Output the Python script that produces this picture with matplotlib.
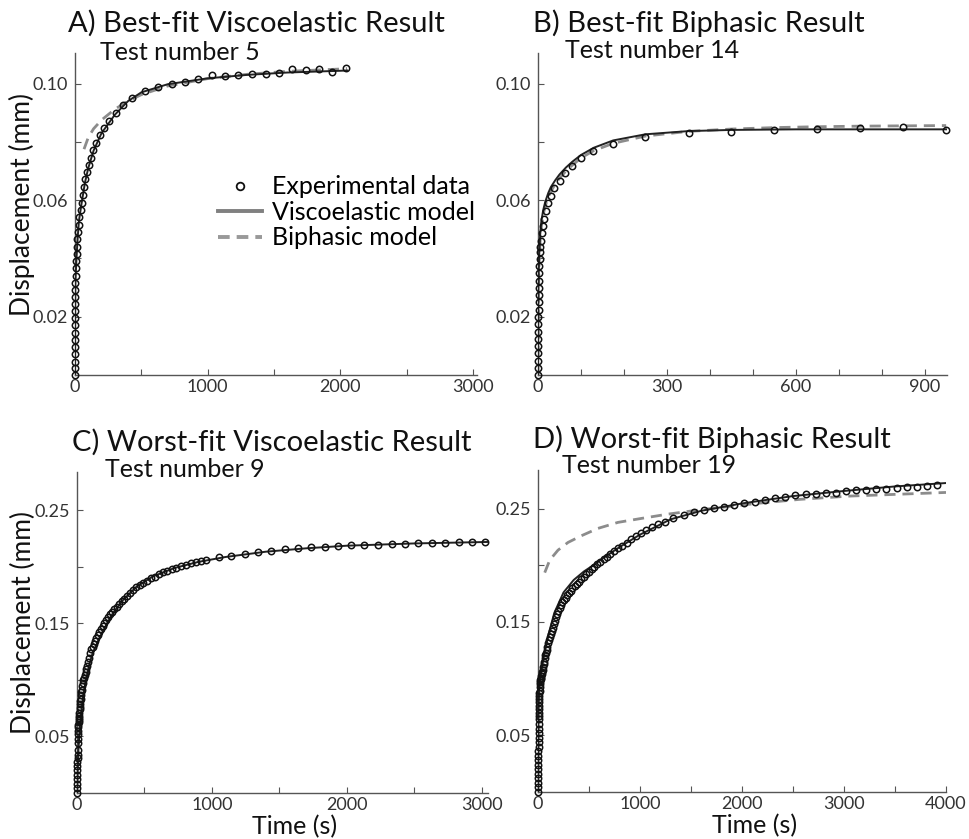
import matplotlib
matplotlib.use("Agg")
import matplotlib.pyplot as plt
from matplotlib.lines import Line2D
from matplotlib.ticker import FixedLocator, FixedFormatter

plt.rcParams['font.family'] = ['Lato', 'DejaVu Sans']

# ---------------- data ----------------
# Panel A: best-fit viscoelastic (test 5)
tA_exp = [0, 0.15, 0.3, 0.45, 0.6, 0.75, 0.9, 1.05, 1.2, 1.35, 1.5, 1.75, 2.0,
          2.5, 5, 7.5, 10, 12.6, 15, 17.6, 22.6, 27.6, 32.7,
          42.7, 50, 60, 67.8, 77.9, 92.9, 105.5, 120.6, 138, 160.8,
          186, 221, 259, 309, 359, 427, 528, 628, 728, 829,
          929, 1030, 1130, 1231, 1332, 1437, 1537, 1638, 1738, 1839,
          1939, 2042]
dA_exp = [0, 0.0023, 0.0046, 0.0071, 0.0095, 0.0120, 0.0145, 0.0170, 0.0194, 0.0219, 0.0243, 0.0268, 0.0291,
          0.0316, 0.0340, 0.0366, 0.0391, 0.0415, 0.0440, 0.0465, 0.0490, 0.0515, 0.0541,
          0.0566, 0.0591, 0.0618, 0.0644, 0.0671, 0.0696, 0.0722, 0.0746, 0.0771, 0.0796,
          0.0823, 0.0848, 0.0873, 0.0899, 0.0926, 0.0951, 0.0975, 0.0987, 0.0999, 0.1007,
          0.1015, 0.1030, 0.1025, 0.1031, 0.1034, 0.1034, 0.1037, 0.1049, 0.1047, 0.1050,
          0.1040, 0.1053]
tA_visco = [0, 1, 2.5, 5, 10, 20, 30, 50, 75, 100, 140, 200, 300, 400, 500, 700, 1000, 1300, 1600, 2000, 2050]
dA_visco = [0, 0.022, 0.031, 0.034, 0.039, 0.047, 0.053, 0.059, 0.066, 0.071, 0.077, 0.083, 0.0893,
            0.0940, 0.0970, 0.0998, 0.1018, 0.1030, 0.1038, 0.1044, 0.1045]
tA_bi = [68, 100, 140, 200, 300, 400, 500, 700, 1000, 1300, 1600, 2000, 2050]
dA_bi = [0.0775, 0.0815, 0.0845, 0.0875, 0.0912, 0.0940, 0.0962, 0.0992, 0.1017, 0.1032, 0.1042, 0.1050, 0.1052]

# Panel B: best-fit biphasic (test 14)
tB_exp = [0, 0.1, 0.2, 0.3, 0.45, 0.6, 0.75, 0.9, 1.05, 1.2, 1.35, 1.5, 1.7, 1.9,
          2.3, 3.1, 3.9, 4.7, 5.4, 6.2, 8.5, 11.7, 14.7, 17.8,
          24, 29.5, 37.2, 50.5, 63.6, 80, 101, 128, 174, 250,
          351, 450, 550, 649, 750, 850, 950]
dB_exp = [0, 0.0025, 0.0049, 0.0074, 0.0099, 0.0124, 0.0148, 0.0174, 0.0200, 0.0223, 0.0249, 0.0273, 0.0298, 0.0323,
          0.0349, 0.0374, 0.0398, 0.0423, 0.0440, 0.0461, 0.0486, 0.0512, 0.0537, 0.0562,
          0.0589, 0.0615, 0.0642, 0.0666, 0.0694, 0.0718, 0.0743, 0.0769, 0.0794, 0.0818,
          0.0831, 0.0833, 0.0842, 0.0844, 0.0849, 0.0851, 0.0842]
tB_visco = [0, 0.5, 1, 2, 3, 5, 8, 12, 17, 24, 30, 40, 50, 65, 80, 100, 130, 175, 250, 350, 450, 600, 800, 950]
dB_visco = [0, 0.022, 0.030, 0.037, 0.042, 0.048, 0.053, 0.0565, 0.0595, 0.0625, 0.0645, 0.0668, 0.0688,
            0.0712, 0.0732, 0.0755, 0.0780, 0.0805, 0.0826, 0.0837, 0.0841, 0.0843, 0.0843, 0.0843]
tB_bi = [0, 1, 3, 5, 8, 12, 17, 24, 30, 40, 50, 65, 80, 100, 130, 175, 250, 350, 450, 550, 650, 750, 850, 950]
dB_bi = [0, 0.028, 0.040, 0.046, 0.051, 0.055, 0.058, 0.0612, 0.063, 0.0655, 0.0675, 0.070, 0.072, 0.0745,
         0.077, 0.0795, 0.082, 0.0836, 0.0844, 0.0849, 0.0852, 0.0854, 0.0855, 0.0856]

# Panel C: worst-fit viscoelastic (test 9)
tC_exp = [0, 0.5, 1, 1.5, 2, 2.5, 3, 3.5, 4, 4.5, 5, 6, 7, 8, 9, 10, 11, 12, 13, 14,
          15, 17, 19, 21, 23, 25, 27, 30, 33, 36, 40, 44, 48, 53, 58, 64, 70, 76, 83, 90,
          98, 106, 115, 124, 134, 144, 155, 166, 178, 190, 203, 216, 230, 245, 260, 276, 293, 311, 330, 350,
          371, 393, 416, 440, 465, 491, 518, 546, 575, 605, 636, 668, 701, 735, 770, 806, 843, 881, 920, 955,
          1049, 1143, 1242, 1338, 1437, 1538, 1637, 1736, 1834, 1933, 2032, 2130, 2230, 2333, 2432,
          2530, 2630, 2728, 2827, 2926, 3024]
dC_exp = [0, 0.004, 0.008, 0.012, 0.016, 0.020, 0.024, 0.027, 0.031, 0.034, 0.038, 0.044, 0.048, 0.052,
          0.055, 0.058, 0.0605, 0.063, 0.065, 0.0665, 0.068, 0.071, 0.074, 0.0765, 0.079, 0.081, 0.083,
          0.087, 0.089, 0.0915, 0.095, 0.0975, 0.100, 0.102, 0.104, 0.107, 0.110, 0.1125, 0.116, 0.1195,
          0.1235, 0.127, 0.1295, 0.132, 0.1348, 0.1375, 0.140, 0.1425, 0.1452, 0.148, 0.1505, 0.153, 0.1555,
          0.1585, 0.160, 0.1625, 0.165, 0.1675, 0.170, 0.172, 0.1745, 0.177, 0.1795, 0.182, 0.184, 0.186,
          0.188, 0.190, 0.1915, 0.1935, 0.1952, 0.1968, 0.1983, 0.1995, 0.2008, 0.2020, 0.2032, 0.2043,
          0.2052, 0.2059, 0.2088, 0.2094, 0.2118, 0.2130, 0.2139, 0.2156, 0.2165, 0.2174, 0.2180, 0.2186,
          0.2194, 0.2192, 0.2194, 0.2203, 0.2203, 0.2212, 0.2215, 0.2215, 0.2224, 0.2218, 0.2218]
tC_visco = [0, 5, 10, 20, 30, 45, 66, 90, 115, 160, 210, 265, 340, 440, 560, 720, 900, 1100, 1400, 1700,
            2000, 2500, 3000, 3045]
dC_visco = [0, 0.022, 0.037, 0.057, 0.070, 0.085, 0.100, 0.113, 0.1236, 0.1353, 0.1471, 0.1589, 0.1706,
            0.1824, 0.1915, 0.1990, 0.2045, 0.2088, 0.2135, 0.2165, 0.2188, 0.2208, 0.2220, 0.2221]

# Panel D: worst-fit biphasic (test 19)
tD_exp = [0, 0.5, 1, 1.5, 2, 2.5, 3, 3.5, 4, 4.5, 5, 5.5, 6, 6.5, 7, 7.5, 8, 8.5, 9, 9.5,
          10, 11, 12, 13, 14, 15, 17, 19, 21, 24, 27, 30, 34, 38, 42, 46, 50, 55, 60, 66,
          72, 78, 85, 92, 100, 108, 116, 125, 135, 145, 155, 165, 176, 188, 200, 213, 226, 240, 255, 270,
          286, 302, 320, 338, 358, 378, 400, 423, 447, 472, 498, 525, 553, 582, 612, 643, 675, 708, 745, 785,
          825, 870, 915, 965, 1014, 1063, 1118, 1176, 1242, 1324, 1428, 1529, 1627, 1725, 1824, 1922, 2020,
          2125, 2223, 2320, 2418, 2516, 2624, 2722, 2820, 2918, 3023, 3121, 3219, 3317, 3415, 3519, 3617,
          3716, 3814, 3912]
dD_exp = [0, 0.004, 0.008, 0.012, 0.016, 0.020, 0.024, 0.028, 0.032, 0.036, 0.040, 0.044, 0.048, 0.052,
          0.056, 0.060, 0.064, 0.067, 0.070, 0.073, 0.076, 0.079, 0.082, 0.085, 0.087, 0.089, 0.0925, 0.095,
          0.097, 0.0985, 0.0995, 0.1005, 0.102, 0.104, 0.106, 0.108, 0.1105, 0.113, 0.115, 0.118, 0.1205,
          0.123, 0.1255, 0.128, 0.131, 0.134, 0.1365, 0.139, 0.142, 0.145, 0.148, 0.151, 0.154, 0.157, 0.160,
          0.1625, 0.165, 0.1675, 0.1695, 0.1715, 0.1735, 0.1755, 0.1775, 0.1795, 0.1815, 0.1835, 0.1855,
          0.1877, 0.1899, 0.1921, 0.1943, 0.1965, 0.1987, 0.2009, 0.2031, 0.2053, 0.2075, 0.2097, 0.2122,
          0.2148, 0.2173, 0.2200, 0.2228, 0.2258, 0.2286, 0.2310, 0.2333, 0.2360, 0.2383, 0.2413, 0.2445,
          0.2466, 0.2486, 0.2501, 0.2518, 0.2533, 0.2545, 0.2556, 0.2578, 0.2592, 0.2604, 0.2616, 0.2625,
          0.2627, 0.2639, 0.2633, 0.2657, 0.2663, 0.2660, 0.2674, 0.2674, 0.2680, 0.2686, 0.2692, 0.2698,
          0.2706]
tD_visco = [0, 3, 10, 30, 60, 100, 160, 250, 350, 450, 550, 650, 800, 1000, 1300, 1600, 2000, 2500,
            3000, 3500, 4000]
dD_visco = [0, 0.060, 0.090, 0.105, 0.121, 0.138, 0.158, 0.176, 0.187, 0.1945, 0.2005, 0.2070, 0.2160,
            0.2270, 0.2405, 0.2480, 0.2545, 0.2610, 0.2655, 0.2695, 0.2725]
tD_bi = [66, 115, 196, 294, 425, 588, 784, 1014, 1275, 1600, 2141, 2566, 3056, 3500, 4000]
dD_bi = [0.1935, 0.2045, 0.2133, 0.2201, 0.2260, 0.2325, 0.2378, 0.2413, 0.2451, 0.2490, 0.2545, 0.2581,
         0.2610, 0.2625, 0.2642]

titles = ["A) Best-fit Viscoelastic Result", "B) Best-fit Biphasic Result",
          "C) Worst-fit Viscoelastic Result", "D) Worst-fit Biphasic Result"]
subtitles = ["Test number 5", "Test number 14", "Test number 9", "Test number 19"]
legend_labels = ["Experimental data", "Viscoelastic model", "Biphasic model"]

# ---------------- styling ----------------
W, H = 969, 839
fig = plt.figure(figsize=(W / 100, H / 100), dpi=100)

def px_axes(l, r, b, t):
    return fig.add_axes([l / W, 1 - b / H, (r - l) / W, (b - t) / H])

axA = px_axes(75, 477, 375, 53)
axB = px_axes(538, 947, 375, 53)
axC = px_axes(77, 488, 793, 472)
axD = px_axes(538, 946, 792, 470)

SP = '#555555'
EXP_KW = dict(ls='none', marker='o', ms=4.6, mfc='none', mec='#111111', mew=1.1, clip_on=False, zorder=4)
VIS_KW = dict(color='#222222', lw=1.4, zorder=3)
BI_KW = dict(color='#8c8c8c', lw=2.0, dashes=(4, 2.5), zorder=2)

def style(ax, xlim, xt, xl, ylim, yt, yl):
    ax.set_xlim(*xlim)
    ax.set_ylim(*ylim)
    for s in ('top', 'right'):
        ax.spines[s].set_visible(False)
    for s in ('left', 'bottom'):
        ax.spines[s].set_color(SP)
        ax.spines[s].set_linewidth(1.0)
    ax.xaxis.set_major_locator(FixedLocator(xt))
    ax.xaxis.set_major_formatter(FixedFormatter(xl))
    ax.yaxis.set_major_locator(FixedLocator(yt))
    ax.yaxis.set_major_formatter(FixedFormatter(yl))
    ax.tick_params(direction='in', length=4, width=0.8, color=SP, labelsize=13,
                   labelcolor='#333333', pad=5)
    ax.tick_params(axis='x', pad=3)

def lbl(vals, show):
    return [(f"{v:g}" if v in show else "") for v in vals]

# A
axA.plot(tA_bi, dA_bi, **BI_KW)
axA.plot(tA_visco, dA_visco, **VIS_KW)
axA.plot(tA_exp, dA_exp, **EXP_KW)
xa = [0, 500, 1000, 1500, 2000, 2500, 3000]
ya = [0.02, 0.04, 0.06, 0.08, 0.10]
style(axA, (0, 3030), xa, lbl(xa, [0, 1000, 2000, 3000]), (0, 0.1105), ya,
      ["0.02", "", "0.06", "", "0.10"])

# B
axB.plot(tB_bi, dB_bi, **BI_KW)
axB.plot(tB_visco, dB_visco, **VIS_KW)
axB.plot(tB_exp, dB_exp, **EXP_KW)
xb = [0, 100, 200, 300, 400, 500, 600, 700, 800, 900]
style(axB, (0, 952), xb, lbl(xb, [0, 300, 600, 900]), (0, 0.1105), ya,
      ["0.02", "", "0.06", "", "0.10"])

# C
axC.plot(tC_visco, dC_visco, **VIS_KW)
axC.plot(tC_exp, dC_exp, **EXP_KW)
yc = [0.05, 0.10, 0.15, 0.20, 0.25]
style(axC, (0, 3045), xa, lbl(xa, [0, 1000, 2000, 3000]), (0, 0.284), yc,
      ["0.05", "", "0.15", "", "0.25"])

# D
axD.plot(tD_bi, dD_bi, **BI_KW)
axD.plot(tD_visco, dD_visco, **VIS_KW)
axD.plot(tD_exp, dD_exp, **EXP_KW)
xd = [0, 500, 1000, 1500, 2000, 2500, 3000, 3500, 4000]
style(axD, (0, 4000), xd, lbl(xd, [0, 1000, 2000, 3000, 4000]), (0, 0.284), yc,
      ["0.05", "", "0.15", "", "0.25"])

# labels
for ax in (axA, axC):
    ax.set_ylabel("Displacement (mm)", fontsize=19, color='#111111', va='center')
    ax.yaxis.set_label_coords(-0.132, 0.53)
for ax in (axC, axD):
    ax.set_xlabel("Time (s)", fontsize=18, color='#111111', va='bottom')
    ax.xaxis.set_label_coords(0.53, -0.142)

# titles (pixel positions of text baselines)
tpos = [(68, 32), (533, 32), (72, 451), (533, 448)]
spos = [(100, 60), (565, 58), (105, 477), (562, 473)]
for (x, y), s in zip(tpos, titles):
    fig.text(x / W, 1 - y / H, s, fontsize=21, va='baseline', ha='left', color='#111111')
for (x, y), s in zip(spos, subtitles):
    fig.text(x / W, 1 - y / H, s, fontsize=18, va='baseline', ha='left', color='#111111')

# legend in panel A
handles = [Line2D([], [], ls='none', marker='o', ms=5.5, mfc='none', mec='#111111', mew=1.3),
           Line2D([], [], color='#808080', lw=2.8),
           Line2D([], [], color='#999999', lw=2.8, dashes=(3, 1.8))]
axA.legend(handles, legend_labels, loc='upper left', bbox_to_anchor=(0.356, 0.62), frameon=False,
           fontsize=18, handlelength=1.75, handletextpad=0.4, labelspacing=0.1,
           borderpad=0, borderaxespad=0)

fig.savefig("out.png", dpi=100, facecolor='white')
